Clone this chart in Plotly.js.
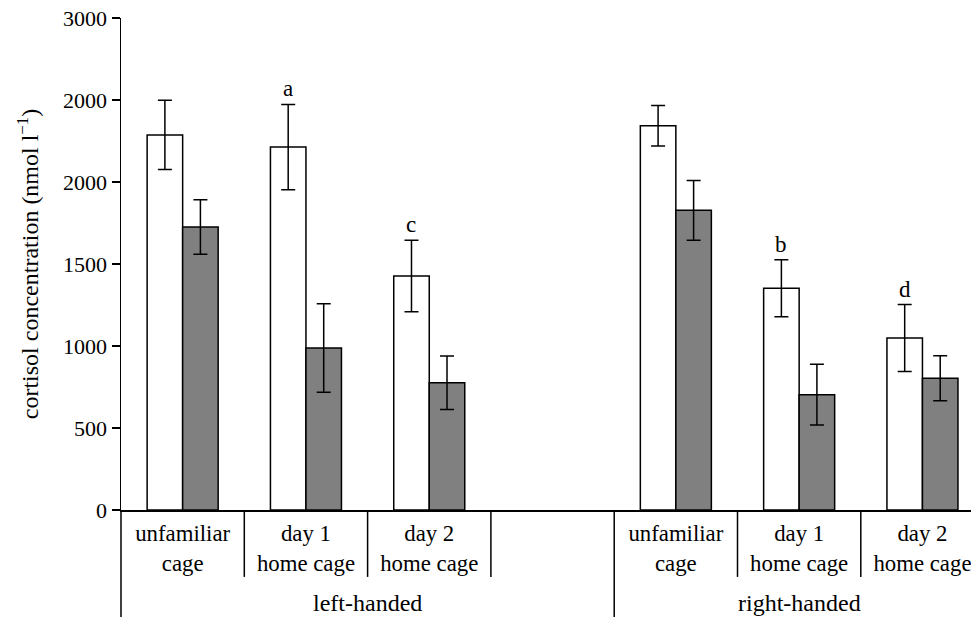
<!DOCTYPE html>
<html>
<head>
<meta charset="utf-8">
<script src="https://cdn.plot.ly/plotly-3.0.1.min.js"></script>
<style>
  html, body { margin: 0; padding: 0; background: #fff; overflow: hidden; }
  #chart { width: 971px; height: 617px; }
</style>
</head>
<body>
<div id="chart"></div>
<script>
// ---- data ----
const conditions = ['unfamiliar<br>cage', 'day 1<br>home cage', 'day 2<br>home cage'];
const hands = ['left-handed', 'right-handed'];
// order: left (unfamiliar, day1, day2), right (unfamiliar, day1, day2)
const whiteValues = [2287, 2213, 1427, 2343, 1352, 1049];
const whiteErrors = [211, 260, 218, 124, 174, 204];
const grayValues  = [1726, 988, 776, 1827, 703, 803];
const grayErrors  = [166, 270, 163, 182, 185, 137];
const letters     = ['', 'a', 'c', '', 'b', 'd'];
const yTickVals   = [0, 500, 1000, 1500, 2000, 2500, 3000];
const yTickText   = ['0', '500', '1000', '1500', '2000', '2000', '3000'];

// ---- layout helpers ----
const slotsPerGroup = conditions.length + 1; // one empty slot after each group
const xPos = [];
const tickVals = [];
const tickText = [];
hands.forEach((h, g) => {
  conditions.forEach((c, i) => {
    xPos.push(g * slotsPerGroup + i);
    tickVals.push(g * slotsPerGroup + i);
    tickText.push(c);
  });
});
const bargap = 0.424;
const barOffset = (1 - bargap) / 4;
const font = '"Liberation Serif"';

const traces = [
  {
    type: 'bar', x: xPos, y: whiteValues, name: 'white',
    marker: { color: '#ffffff', line: { color: '#000', width: 1.5 } },
    error_y: { type: 'data', array: whiteErrors, visible: true, color: '#000', thickness: 1.5, width: 7 },
    hoverinfo: 'none'
  },
  {
    type: 'bar', x: xPos, y: grayValues, name: 'gray',
    marker: { color: '#808080', line: { color: '#000', width: 1.5 } },
    error_y: { type: 'data', array: grayErrors, visible: true, color: '#000', thickness: 1.5, width: 7 },
    hoverinfo: 'none'
  }
];

const annotations = [];
letters.forEach((l, i) => {
  if (!l) return;
  annotations.push({
    x: xPos[i] - barOffset, y: whiteValues[i] + whiteErrors[i],
    xref: 'x', yref: 'y', text: l, showarrow: false,
    yanchor: 'bottom', yshift: 1,
    font: { family: font, size: 23, color: '#000' }
  });
});
hands.forEach((h, g) => {
  annotations.push({
    x: g * slotsPerGroup + (conditions.length - 1) / 2 + (g === 0 ? 0.5 : 0),
    y: -0.189, xref: 'x', yref: 'paper', text: h, showarrow: false,
    yanchor: 'middle', xanchor: 'center',
    font: { family: font, size: 24, color: '#000' }
  });
});

const shapes = [];
const nSlots = hands.length * slotsPerGroup;
for (let b = 0; b <= nSlots; b++) {
  const xb = b - 0.5;
  const groupEdge = (b % slotsPerGroup === 0);
  shapes.push({
    type: 'line', xref: b === 0 ? 'paper' : 'x', yref: 'paper',
    x0: b === 0 ? 0 : xb, x1: b === 0 ? 0 : xb,
    y0: 0, y1: groupEdge ? -0.25 : -0.136,
    line: { color: '#000', width: 1.5 }
  });
}

const layout = {
  width: 971, height: 617,
  margin: { l: 121, r: 0, t: 18, b: 107 },
  paper_bgcolor: '#fff', plot_bgcolor: '#fff',
  showlegend: false,
  barmode: 'group', bargap: bargap, bargroupgap: 0,
  font: { family: font, size: 22, color: '#000' },
  xaxis: {
    range: [-0.5, -0.5 + 850 / 123.3],
    tickmode: 'array', tickvals: tickVals, ticktext: tickText,
    ticks: '', showgrid: false, zeroline: false,
    showline: true, linecolor: '#000', linewidth: 1.5,
    tickfont: { family: font, size: 22.8, color: '#000' },
    ticklabelstandoff: 2,
    ticklabeloverflow: 'allow',
    fixedrange: true
  },
  yaxis: {
    range: [0, 3000],
    tickmode: 'array', tickvals: yTickVals, ticktext: yTickText,
    ticks: 'outside', ticklen: 8, tickwidth: 1.5, tickcolor: '#000',
    showgrid: false, zeroline: false,
    showline: true, linecolor: '#000', linewidth: 1.5,
    tickfont: { family: font, size: 22, color: '#000' },
    title: { text: 'cortisol concentration (nmol l<sup>−1</sup>)', font: { family: font, size: 24, color: '#000' }, standoff: 17 },
    fixedrange: true
  },
  annotations: annotations,
  shapes: shapes
};

Plotly.newPlot('chart', traces, layout, { displayModeBar: false, staticPlot: true });
</script>
</body>
</html>
